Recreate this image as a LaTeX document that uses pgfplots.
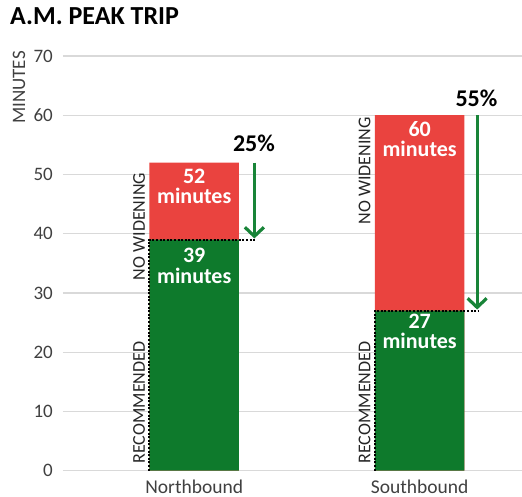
\documentclass[border=0pt]{standalone}
\usepackage{pgfplots}
\pgfplotsset{compat=1.18}
\usepackage{fontspec}
\setmainfont{Carlito}
\usetikzlibrary{arrows.meta}

\definecolor{barGreen}{RGB}{14,122,44}
\definecolor{barRed}{RGB}{234,67,63}
\definecolor{arrGreen}{RGB}{24,132,56}
\definecolor{gridGray}{RGB}{217,217,217}
\definecolor{txtGray}{RGB}{64,64,64}

\begin{document}
\begin{tikzpicture}
\useasboundingbox (-63pt,-26.3pt) rectangle (459pt,470.7pt);
\begin{axis}[
    at={(0,0)}, anchor=south west,
    scale only axis, width=459pt, height=414.7pt,
    xmin=-0.582, xmax=1.454,
    ymin=0, ymax=70,
    ytick={0,10,...,70},
    xtick={0,1}, xticklabels={Northbound, Southbound},
    axis line style={draw=none},
    major tick length=0pt,
    ymajorgrids, grid style={gridGray, line width=1.2pt},
    /pgf/number format/assume math mode=true,
    yticklabel style={anchor=east, inner sep=0pt, xshift=-10pt,
        font=\fontsize{19}{19}\selectfont, text=txtGray},
    xticklabel style={anchor=base, inner sep=0pt, yshift=-22.5pt,
        font=\fontsize{19.5}{19.5}\selectfont, text=txtGray},
    clip=false,
]
% total with no widening (red) and recommended (green) drawn over it
\addplot[ybar, bar width=0.397, bar shift=0pt, fill=barRed, draw=none]
    coordinates {(0,52) (1,60)};
\addplot[ybar, bar width=0.397, bar shift=0pt, fill=barGreen, draw=none]
    coordinates {(0,39) (1,27)};

% dotted outline of the recommended trip
\addplot[sharp plot, black, line width=2pt, dash pattern=on 2pt off 1.6pt]
    coordinates {(-0.1985,0) (-0.1985,39) (0.277,39)};
\addplot[sharp plot, black, line width=2pt, dash pattern=on 2pt off 1.6pt]
    coordinates {(0.8015,0) (0.8015,27) (1.263,27)};

% reduction arrows
\addplot[sharp plot, arrGreen, line width=3.2pt, -{Straight Barb[length=9pt,width=19pt]}]
    coordinates {(0.267,52) (0.267,39.2)};
\addplot[sharp plot, arrGreen, line width=3.2pt, -{Straight Barb[length=9pt,width=19pt]}]
    coordinates {(1.255,60) (1.255,27.2)};

% value labels
\node[anchor=base, inner sep=0pt, text=white, yshift=-20.5pt,
      font=\bfseries\fontsize{22}{22}\selectfont] at (axis cs:0,52) {52};
\node[anchor=base, inner sep=0pt, text=white, yshift=-41pt,
      font=\bfseries\fontsize{22}{22}\selectfont] at (axis cs:0,52) {minutes};
\node[anchor=base, inner sep=0pt, text=white, yshift=-23pt,
      font=\bfseries\fontsize{22}{22}\selectfont] at (axis cs:0,39) {39};
\node[anchor=base, inner sep=0pt, text=white, yshift=-43.5pt,
      font=\bfseries\fontsize{22}{22}\selectfont] at (axis cs:0,39) {minutes};
\node[anchor=base, inner sep=0pt, text=white, yshift=-21pt,
      font=\bfseries\fontsize{22}{22}\selectfont] at (axis cs:1,60) {60};
\node[anchor=base, inner sep=0pt, text=white, yshift=-41.5pt,
      font=\bfseries\fontsize{22}{22}\selectfont] at (axis cs:1,60) {minutes};
\node[anchor=base, inner sep=0pt, text=white, yshift=-17.5pt,
      font=\bfseries\fontsize{22}{22}\selectfont] at (axis cs:1,27) {27};
\node[anchor=base, inner sep=0pt, text=white, yshift=-38pt,
      font=\bfseries\fontsize{22}{22}\selectfont] at (axis cs:1,27) {minutes};

% percentages
\node[inner sep=0pt, font=\bfseries\fontsize{24}{24}\selectfont]
    at (axis cs:0.265,55.3) {25\%};
\node[inner sep=0pt, font=\bfseries\fontsize{24}{24}\selectfont]
    at (axis cs:1.252,62.8) {55\%};

% rotated segment labels (shift first, then rotate)
\node[xshift=-4.5pt, rotate=90, anchor=base west, inner sep=0pt, text=black!85,
      font=\fontsize{18}{18}\selectfont] at (axis cs:-0.1985,1.2) {RECOMMENDED};
\node[xshift=-4.5pt, rotate=90, anchor=base west, inner sep=0pt, text=black!85,
      font=\fontsize{18}{18}\selectfont] at (axis cs:0.8015,1.2) {RECOMMENDED};
\node[xshift=-4.5pt, rotate=90, anchor=base east, inner sep=0pt, text=black!85,
      font=\fontsize{18}{18}\selectfont] at (axis cs:-0.1985,50.3) {NO WIDENING};
\node[xshift=-4.5pt, rotate=90, anchor=base east, inner sep=0pt, text=black!85,
      font=\fontsize{18}{18}\selectfont] at (axis cs:0.8015,59.7) {NO WIDENING};
\end{axis}

\node[anchor=base west, inner sep=0pt, font=\bfseries\fontsize{26}{26}\selectfont]
    at (-53pt,445.7pt) {A.M. PEAK TRIP};
\node[rotate=90, inner sep=0pt, text=txtGray, font=\fontsize{19}{19}\selectfont]
    at (-44pt,383.2pt) {MINUTES};
\end{tikzpicture}
\end{document}
